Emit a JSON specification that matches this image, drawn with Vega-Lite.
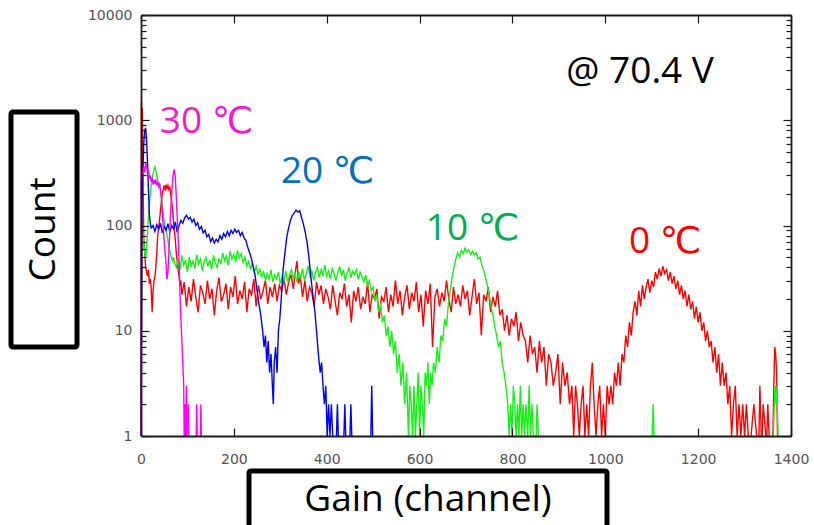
{
"$schema": "https://vega.github.io/schema/vega-lite/v6.json",
"padding": {"left": 8, "top": 8, "right": 5, "bottom": 0},
"config": {"view": {"stroke": null}, "concat": {"spacing": 0}},
"datasets": {
"red": [{"c":0,"n":1},{"c":1,"n":1500},{"c":2,"n":700},{"c":3,"n":1300},{"c":4,"n":350},{"c":5,"n":160},{"c":6,"n":75},{"c":8,"n":55},{"c":10,"n":40},{"c":12,"n":36},{"c":14,"n":33},{"c":16,"n":38},{"c":18,"n":28},{"c":20,"n":31},{"c":22,"n":25},{"c":24,"n":15},{"c":26,"n":24},{"c":28,"n":30},{"c":30,"n":33},{"c":32,"n":40},{"c":34,"n":55},{"c":36,"n":80},{"c":38,"n":95},{"c":40,"n":115},{"c":42,"n":140},{"c":44,"n":170},{"c":46,"n":200},{"c":48,"n":220},{"c":50,"n":240},{"c":52,"n":215},{"c":54,"n":245},{"c":56,"n":225},{"c":58,"n":240},{"c":60,"n":220},{"c":62,"n":230},{"c":64,"n":200},{"c":66,"n":170},{"c":68,"n":140},{"c":70,"n":110},{"c":72,"n":90},{"c":74,"n":72},{"c":76,"n":55},{"c":78,"n":45},{"c":80,"n":38},{"c":82,"n":33},{"c":84,"n":27},{"c":86,"n":30},
{"c":88,"n":22},{"c":93,"n":29},{"c":98,"n":17},{"c":103,"n":26},{"c":108,"n":19},{"c":113,"n":31},{"c":118,"n":21},{"c":123,"n":15},{"c":128,"n":27},{"c":133,"n":23},{"c":138,"n":18},{"c":143,"n":30},{"c":148,"n":20},{"c":153,"n":25},{"c":158,"n":14},{"c":163,"n":24},{"c":168,"n":32},{"c":173,"n":19},{"c":178,"n":22},{"c":183,"n":28},{"c":188,"n":16},{"c":193,"n":26},{"c":198,"n":21},{"c":203,"n":33},{"c":208,"n":18},{"c":213,"n":24},{"c":218,"n":20},{"c":223,"n":29},{"c":228,"n":15},{"c":233,"n":25},{"c":238,"n":22},{"c":243,"n":31},{"c":248,"n":17},{"c":253,"n":27},{"c":258,"n":20},{"c":263,"n":24},{"c":268,"n":30},{"c":273,"n":18},{"c":278,"n":26},{"c":283,"n":21},{"c":288,"n":28},{"c":293,"n":19},{"c":298,"n":27},
{"c":303,"n":24},{"c":308,"n":31},{"c":313,"n":22},{"c":318,"n":29},{"c":323,"n":34},{"c":328,"n":25},{"c":333,"n":38},{"c":336,"n":46},{"c":339,"n":28},{"c":343,"n":33},
{"c":348,"n":21},{"c":353,"n":30},{"c":358,"n":19},{"c":363,"n":26},{"c":368,"n":23},{"c":373,"n":17},{"c":378,"n":29},{"c":383,"n":22},{"c":388,"n":27},{"c":393,"n":18},{"c":398,"n":25},
{"c":403,"n":21},{"c":408,"n":16},{"c":413,"n":27},{"c":418,"n":19},{"c":423,"n":14},{"c":428,"n":23},{"c":433,"n":20},{"c":438,"n":28},{"c":443,"n":17},{"c":448,"n":22},{"c":453,"n":12},{"c":458,"n":24},{"c":463,"n":19},{"c":468,"n":26},{"c":473,"n":16},{"c":478,"n":21},{"c":483,"n":18},{"c":488,"n":29},{"c":493,"n":15},{"c":498,"n":22},{"c":503,"n":20},{"c":508,"n":25},{"c":513,"n":13},{"c":518,"n":21},
{"c":523,"n":19},{"c":528,"n":26},{"c":533,"n":15},{"c":538,"n":22},{"c":543,"n":17},{"c":548,"n":30},{"c":553,"n":18},{"c":558,"n":24},{"c":563,"n":14},{"c":568,"n":21},{"c":573,"n":27},{"c":578,"n":16},{"c":583,"n":23},{"c":588,"n":19},{"c":593,"n":29},{"c":598,"n":15},{"c":603,"n":22},{"c":608,"n":11},{"c":613,"n":24},{"c":618,"n":18},{"c":623,"n":28},{"c":628,"n":7},{"c":633,"n":21},{"c":638,"n":25},{"c":643,"n":17},{"c":648,"n":23},{"c":653,"n":19},{"c":658,"n":30},{"c":663,"n":20},{"c":668,"n":15},{"c":673,"n":26},{"c":678,"n":18},{"c":683,"n":22},{"c":688,"n":17},{"c":693,"n":27},{"c":698,"n":20},{"c":703,"n":24},{"c":708,"n":14},{"c":713,"n":21},{"c":718,"n":31},{"c":723,"n":18},{"c":728,"n":23},{"c":733,"n":9},{"c":738,"n":22},
{"c":743,"n":19},{"c":748,"n":26},{"c":753,"n":15},{"c":758,"n":21},{"c":763,"n":17},{"c":768,"n":24},{"c":773,"n":14},
{"c":778,"n":16},{"c":783,"n":10},{"c":788,"n":14},{"c":793,"n":9},{"c":798,"n":13},{"c":803,"n":11},{"c":808,"n":15},{"c":813,"n":8},{"c":818,"n":12},{"c":823,"n":9},
{"c":828,"n":8},{"c":833,"n":5},{"c":838,"n":9},{"c":843,"n":6},{"c":848,"n":7},{"c":853,"n":4},{"c":858,"n":8},{"c":863,"n":5},{"c":868,"n":7},{"c":873,"n":3},{"c":878,"n":6},
{"c":883,"n":5},{"c":888,"n":3},{"c":893,"n":4},{"c":898,"n":6},{"c":903,"n":2},{"c":908,"n":5},{"c":913,"n":3},{"c":918,"n":4},{"c":923,"n":2},{"c":928,"n":3},
{"c":932,"n":1},{"c":936,"n":3},{"c":940,"n":2},{"c":944,"n":1},{"c":948,"n":2},{"c":952,"n":3},{"c":956,"n":1},{"c":960,"n":2},{"c":964,"n":1},{"c":968,"n":3},{"c":972,"n":5},{"c":976,"n":2},{"c":980,"n":1},{"c":984,"n":2},{"c":988,"n":3},{"c":992,"n":1},{"c":996,"n":2},{"c":1000,"n":1},{"c":1004,"n":3},{"c":1008,"n":2},
{"c":1012,"n":3},{"c":1016,"n":2},{"c":1020,"n":4},{"c":1024,"n":3},{"c":1028,"n":5},{"c":1032,"n":3},
{"c":1036,"n":6},{"c":1040,"n":5},{"c":1044,"n":9},{"c":1048,"n":7},{"c":1052,"n":12},{"c":1056,"n":9},
{"c":1060,"n":15},{"c":1064,"n":19},{"c":1068,"n":14},{"c":1072,"n":24},{"c":1076,"n":17},{"c":1080,"n":27},{"c":1084,"n":20},{"c":1088,"n":26},{"c":1092,"n":31},{"c":1096,"n":23},
{"c":1100,"n":30},{"c":1104,"n":26},{"c":1108,"n":36},{"c":1112,"n":31},{"c":1116,"n":39},{"c":1120,"n":33},{"c":1124,"n":41},{"c":1128,"n":35},{"c":1132,"n":38},{"c":1136,"n":30},{"c":1140,"n":36},{"c":1144,"n":28},{"c":1148,"n":33},
{"c":1152,"n":25},{"c":1156,"n":30},{"c":1160,"n":22},{"c":1164,"n":27},{"c":1168,"n":20},{"c":1172,"n":24},{"c":1176,"n":17},{"c":1180,"n":22},{"c":1184,"n":16},{"c":1188,"n":19},{"c":1192,"n":13},{"c":1196,"n":17},
{"c":1200,"n":12},{"c":1204,"n":15},{"c":1208,"n":10},{"c":1212,"n":12},{"c":1216,"n":8},{"c":1220,"n":10},{"c":1224,"n":7},
{"c":1228,"n":8},{"c":1232,"n":5},{"c":1236,"n":7},{"c":1240,"n":4},{"c":1244,"n":6},{"c":1248,"n":3},{"c":1252,"n":5},{"c":1256,"n":3},{"c":1260,"n":4},{"c":1264,"n":2},{"c":1268,"n":3},
{"c":1272,"n":1},{"c":1276,"n":2},{"c":1280,"n":3},{"c":1284,"n":1},{"c":1288,"n":2},{"c":1292,"n":1},{"c":1296,"n":2},{"c":1300,"n":1},{"c":1304,"n":2},{"c":1308,"n":1},
{"c":1314,"n":1,"g":"b"},{"c":1320,"n":2,"g":"b"},{"c":1326,"n":1,"g":"b"},{"c":1331,"n":1,"g":"c"},{"c":1333,"n":3,"g":"c"},{"c":1336,"n":1,"g":"c"},{"c":1338,"n":1,"g":"d"},{"c":1340,"n":2,"g":"d"},{"c":1346,"n":1,"g":"d"},{"c":1348,"n":1,"g":"e"},{"c":1350,"n":2,"g":"e"},{"c":1353,"n":1,"g":"e"},{"c":1361,"n":1,"g":"f"},{"c":1363,"n":3,"g":"f"},{"c":1365,"n":7,"g":"f"},{"c":1367,"n":6,"g":"f"},{"c":1369,"n":4,"g":"f"},{"c":1371,"n":1,"g":"f"}],
"green": [{"c":0,"n":1},{"c":2,"n":120},{"c":4,"n":85},{"c":6,"n":70},{"c":8,"n":55},{"c":10,"n":48},{"c":12,"n":60},{"c":14,"n":85},{"c":16,"n":120},{"c":18,"n":160},{"c":20,"n":200},{"c":22,"n":240},{"c":24,"n":280},{"c":26,"n":310},{"c":28,"n":340},{"c":30,"n":360},{"c":32,"n":330},{"c":34,"n":300},{"c":36,"n":270},{"c":38,"n":240},{"c":40,"n":250},{"c":42,"n":220},{"c":44,"n":190},{"c":46,"n":150},{"c":48,"n":125},{"c":50,"n":110},{"c":52,"n":95},{"c":54,"n":90},{"c":56,"n":80},{"c":58,"n":72},{"c":60,"n":62},{"c":62,"n":58},{"c":64,"n":52},{"c":66,"n":49},{"c":68,"n":46},{"c":70,"n":50},{"c":73,"n":43},
{"c":76,"n":40},{"c":80,"n":48},{"c":84,"n":38},{"c":88,"n":52},{"c":92,"n":42},{"c":96,"n":47},{"c":100,"n":36},{"c":104,"n":50},{"c":108,"n":41},{"c":112,"n":46},{"c":116,"n":39},{"c":120,"n":53},{"c":124,"n":43},{"c":128,"n":48},{"c":132,"n":37},{"c":136,"n":45},{"c":140,"n":50},{"c":144,"n":41},{"c":148,"n":47},{"c":152,"n":38},{"c":156,"n":52},{"c":160,"n":44},{"c":164,"n":40},{"c":168,"n":49},{"c":172,"n":43},{"c":176,"n":55},{"c":180,"n":46},{"c":184,"n":51},{"c":188,"n":42},{"c":192,"n":57},{"c":196,"n":48},{"c":200,"n":53},{"c":204,"n":45},{"c":208,"n":58},{"c":212,"n":49},{"c":216,"n":54},{"c":220,"n":44},{"c":224,"n":50},{"c":228,"n":41},{"c":232,"n":46},
{"c":236,"n":38},{"c":240,"n":44},{"c":244,"n":36},{"c":248,"n":41},{"c":252,"n":34},{"c":256,"n":39},{"c":260,"n":32},{"c":264,"n":37},{"c":268,"n":30},{"c":272,"n":35},{"c":276,"n":31},{"c":280,"n":38},{"c":284,"n":29},{"c":288,"n":34},{"c":292,"n":31},{"c":296,"n":36},{"c":300,"n":28},{"c":304,"n":33},{"c":308,"n":30},{"c":312,"n":37},{"c":316,"n":29},{"c":320,"n":34},{"c":324,"n":38},{"c":328,"n":31},{"c":332,"n":35},{"c":336,"n":29},{"c":340,"n":36},{"c":344,"n":32},{"c":348,"n":39},{"c":352,"n":30},{"c":356,"n":35},{"c":360,"n":41},{"c":364,"n":33},{"c":368,"n":37},{"c":372,"n":30},{"c":376,"n":36},{"c":380,"n":40},{"c":384,"n":32},{"c":388,"n":38},{"c":392,"n":34},{"c":396,"n":42},{"c":400,"n":33},{"c":404,"n":37},{"c":408,"n":31},{"c":412,"n":39},{"c":416,"n":35},{"c":420,"n":30},{"c":424,"n":36},{"c":428,"n":41},{"c":432,"n":33},{"c":436,"n":38},{"c":440,"n":30},{"c":444,"n":35},{"c":448,"n":40},{"c":452,"n":32},{"c":456,"n":37},{"c":460,"n":34},{"c":464,"n":38},{"c":468,"n":31},{"c":472,"n":36},{"c":476,"n":33},{"c":480,"n":29},{"c":484,"n":34},{"c":488,"n":27},{"c":492,"n":30},{"c":496,"n":24},{"c":500,"n":26},{"c":504,"n":19},{"c":508,"n":22},{"c":512,"n":15},{"c":516,"n":18},{"c":520,"n":12},{"c":524,"n":14},{"c":528,"n":9},{"c":532,"n":11},{"c":536,"n":7},{"c":540,"n":10},{"c":544,"n":6},{"c":548,"n":8},{"c":552,"n":4},{"c":556,"n":6},{"c":560,"n":3},{"c":564,"n":5},{"c":568,"n":2},{"c":572,"n":4},{"c":576,"n":1},{"c":579,"n":3},{"c":582,"n":2},{"c":585,"n":1},{"c":588,"n":3},{"c":591,"n":1},{"c":594,"n":2},{"c":597,"n":4},{"c":600,"n":1},{"c":603,"n":3},{"c":606,"n":2},{"c":609,"n":1},{"c":612,"n":4},{"c":615,"n":3},{"c":618,"n":5},{"c":621,"n":2},{"c":624,"n":4},{"c":627,"n":3},{"c":630,"n":5},{"c":634,"n":4},{"c":638,"n":7},{"c":642,"n":5},{"c":646,"n":9},{"c":650,"n":8},{"c":654,"n":13},{"c":658,"n":11},{"c":662,"n":18},{"c":666,"n":24},{"c":670,"n":32},{"c":674,"n":40},{"c":678,"n":48},{"c":682,"n":55},{"c":686,"n":50},{"c":690,"n":58},{"c":694,"n":54},{"c":698,"n":61},{"c":702,"n":56},{"c":706,"n":59},{"c":710,"n":53},{"c":714,"n":57},{"c":718,"n":52},{"c":722,"n":55},{"c":726,"n":48},{"c":730,"n":50},{"c":734,"n":42},{"c":738,"n":38},{"c":742,"n":32},{"c":746,"n":27},{"c":750,"n":22},{"c":754,"n":17},{"c":758,"n":14},{"c":762,"n":11},{"c":766,"n":9},{"c":770,"n":7},{"c":774,"n":8},{"c":778,"n":5},{"c":782,"n":4},{"c":786,"n":3},{"c":790,"n":2},{"c":793,"n":1},{"c":796,"n":2},{"c":799,"n":1},{"c":802,"n":3},{"c":805,"n":2},{"c":808,"n":1},{"c":811,"n":2},{"c":814,"n":1},{"c":817,"n":3},{"c":820,"n":1},{"c":823,"n":2},{"c":826,"n":1},{"c":829,"n":2},{"c":833,"n":1},{"c":836,"n":3},{"c":839,"n":1},{"c":842,"n":2},{"c":845,"n":1},{"c":851,"n":1,"g":"b"},{"c":853,"n":2,"g":"b"},{"c":856,"n":1,"g":"b"},{"c":1101,"n":1,"g":"c"},{"c":1103,"n":2,"g":"c"},{"c":1105,"n":1,"g":"c"},{"c":1362,"n":1,"g":"d"},{"c":1364,"n":2,"g":"d"},{"c":1366,"n":3,"g":"d"},{"c":1368,"n":2,"g":"d"},{"c":1370,"n":3,"g":"d"},{"c":1372,"n":1,"g":"d"}],
"blue": [{"c":0,"n":1},{"c":2,"n":150},{"c":4,"n":320},{"c":6,"n":600},{"c":8,"n":800},{"c":10,"n":850},{"c":12,"n":650},{"c":14,"n":400},{"c":16,"n":220},{"c":18,"n":130},{"c":20,"n":105},{"c":22,"n":95},{"c":26,"n":100},{"c":30,"n":88},{"c":34,"n":102},{"c":38,"n":92},{"c":42,"n":105},{"c":46,"n":85},{"c":50,"n":98},{"c":54,"n":90},{"c":58,"n":104},{"c":62,"n":87},{"c":66,"n":100},{"c":70,"n":93},{"c":74,"n":108},{"c":78,"n":86},{"c":82,"n":100},{"c":86,"n":112},{"c":90,"n":105},{"c":94,"n":118},{"c":98,"n":125},{"c":102,"n":115},{"c":106,"n":120},{"c":110,"n":108},{"c":114,"n":115},{"c":118,"n":100},{"c":122,"n":106},{"c":126,"n":92},{"c":130,"n":98},{"c":134,"n":85},{"c":138,"n":90},{"c":142,"n":78},{"c":146,"n":82},{"c":150,"n":70},{"c":154,"n":76},{"c":158,"n":68},{"c":162,"n":74},{"c":166,"n":70},{"c":170,"n":80},{"c":174,"n":74},{"c":178,"n":84},{"c":182,"n":78},{"c":186,"n":88},{"c":190,"n":80},{"c":194,"n":90},{"c":198,"n":84},{"c":202,"n":92},{"c":206,"n":86},{"c":210,"n":90},{"c":214,"n":80},{"c":218,"n":86},{"c":222,"n":76},{"c":226,"n":72},{"c":230,"n":62},{"c":234,"n":55},{"c":238,"n":48},{"c":242,"n":40},{"c":246,"n":33},{"c":250,"n":24},{"c":254,"n":18},{"c":258,"n":14},{"c":262,"n":10},{"c":265,"n":7},{"c":268,"n":9},{"c":271,"n":5},{"c":274,"n":8},{"c":277,"n":4},{"c":280,"n":6},{"c":283,"n":3},{"c":285,"n":2},{"c":287,"n":5},{"c":290,"n":7},{"c":293,"n":4},{"c":296,"n":10},{"c":299,"n":13},{"c":302,"n":20},{"c":306,"n":38},{"c":310,"n":55},{"c":314,"n":78},{"c":318,"n":95},{"c":322,"n":112},{"c":326,"n":125},{"c":330,"n":132},{"c":334,"n":140},{"c":338,"n":134},{"c":342,"n":138},{"c":346,"n":118},{"c":350,"n":102},{"c":354,"n":85},{"c":358,"n":68},{"c":362,"n":48},{"c":366,"n":32},{"c":370,"n":22},{"c":374,"n":16},{"c":378,"n":10},{"c":382,"n":6},{"c":386,"n":4},{"c":389,"n":5},{"c":392,"n":3},{"c":395,"n":2},{"c":398,"n":3},{"c":401,"n":1},{"c":404,"n":2},{"c":407,"n":1},{"c":410,"n":2},{"c":413,"n":1},{"c":421,"n":1,"g":"b"},{"c":423,"n":2,"g":"b"},{"c":425,"n":1,"g":"b"},{"c":437,"n":1,"g":"c"},{"c":439,"n":2,"g":"c"},{"c":441,"n":1,"g":"c"},{"c":450,"n":1,"g":"d"},{"c":452,"n":2,"g":"d"},{"c":454,"n":1,"g":"d"},{"c":495,"n":1,"g":"e"},{"c":497,"n":3,"g":"e"},{"c":499,"n":1,"g":"e"}],
"magenta": [{"c":0,"n":1},{"c":1,"n":260},{"c":2,"n":330},{"c":4,"n":290},{"c":6,"n":360},{"c":8,"n":320},{"c":10,"n":400},{"c":12,"n":370},{"c":14,"n":310},{"c":16,"n":340},{"c":18,"n":280},{"c":20,"n":300},{"c":22,"n":260},{"c":24,"n":285},{"c":26,"n":245},{"c":28,"n":270},{"c":30,"n":250},{"c":32,"n":275},{"c":34,"n":240},{"c":36,"n":260},{"c":38,"n":235},{"c":40,"n":250},{"c":42,"n":215},{"c":44,"n":180},{"c":46,"n":130},{"c":48,"n":95},{"c":50,"n":70},{"c":52,"n":55},{"c":54,"n":42},{"c":56,"n":31},{"c":58,"n":36},{"c":60,"n":55},{"c":62,"n":90},{"c":64,"n":140},{"c":66,"n":200},{"c":68,"n":260},{"c":70,"n":320},{"c":72,"n":340},{"c":74,"n":280},{"c":76,"n":190},{"c":78,"n":120},{"c":80,"n":80},{"c":82,"n":45},{"c":84,"n":22},{"c":86,"n":13},{"c":88,"n":8},{"c":90,"n":5},{"c":92,"n":3},{"c":93,"n":1},{"c":95,"n":2},{"c":96,"n":1},{"c":98,"n":3},{"c":99,"n":1},{"c":102,"n":2},{"c":103,"n":1},{"c":119,"n":1,"g":"b"},{"c":120,"n":2,"g":"b"},{"c":121,"n":1,"g":"b"},{"c":128,"n":1,"g":"c"},{"c":129,"n":2,"g":"c"},{"c":130,"n":1,"g":"c"}],
"notes": [{"t":"30 ℃","c":141,"n":761},{"t":"20 ℃","c":402,"n":251},{"t":"10 ℃","c":714,"n":73},{"t":"0 ℃","c":1129,"n":54.5},{"t":"@ 70.4 V","c":1075,"n":2270}]
},
"spacing": 2,
"vconcat": [
 {"hconcat": [
   {"vconcat": [
     {"width": 65, "height": 94, "data": {"values": [{}]}, "mark": {"type": "text", "text": ""}, "encoding": {}},
     {"width": 66, "height": 235, "view": {"stroke": "black", "strokeWidth": 5, "cornerRadius": 2}, "data": {"values": [{}]},
      "mark": {"type": "text", "text": "Count", "angle": 270, "font": "Open Sans", "fontSize": 37, "color": "black", "align": "center", "baseline": "middle"}, "encoding": {}}
   ]},
   {"width": 650, "height": 421,
    "resolve": {"axis": {"x": "independent", "y": "independent"}},
    "layer": [
     {"data": {"name": "red"}, "mark": {"type": "line", "color": "#FF0000", "strokeWidth": 1.4, "interpolate": "linear"},
      "encoding": {
       "x": {"field": "c", "type": "quantitative", "scale": {"domain": [0, 1400], "nice": false, "zero": false},
             "axis": {"orient": "bottom", "values": [0,200,400,600,800,1000,1200,1400], "format": "d", "title": null, "grid": false, "tickSize": -8, "labelPadding": 24, "labelFlush": false, "labelOverlap": false, "labelFont": "DejaVu Sans", "labelFontSize": 14, "labelColor": "#555555", "domainColor": "#1a1a1a", "domainWidth": 1.8, "tickColor": "#1a1a1a", "tickWidth": 1.2, "zindex": 1}},
       "y": {"field": "n", "type": "quantitative", "scale": {"type": "log", "domain": [1, 10000], "nice": false},
             "axis": {"orient": "left", "values": [1,2,3,4,5,6,7,8,9,10,20,30,40,50,60,70,80,90,100,200,300,400,500,600,700,800,900,1000,2000,3000,4000,5000,6000,7000,8000,9000,10000],
                      "labelExpr": "indexof([1,10,100,1000,10000], datum.value) >= 0 ? format(datum.value, 'd') : ''",
                      "title": null, "grid": false,
                      "tickSize": {"condition": {"test": "indexof([1,10,100,1000,10000], datum.value) >= 0", "value": -8}, "value": -5},
                      "labelPadding": 17, "labelFlush": false, "labelOverlap": false, "labelFont": "DejaVu Sans", "labelFontSize": 14, "labelColor": "#555555", "domainColor": "#1a1a1a", "domainWidth": 1.8, "tickColor": "#1a1a1a", "tickWidth": 1.2, "zindex": 1}},
       "detail": {"field": "g", "type": "nominal"}
      }},
     {"data": {"name": "green"}, "mark": {"type": "line", "color": "#18F018", "strokeWidth": 1.4},
      "encoding": {
       "x": {"field": "c", "type": "quantitative", "scale": {"domain": [0, 1400], "nice": false, "zero": false}, "axis": null},
       "y": {"field": "n", "type": "quantitative", "scale": {"type": "log", "domain": [1, 10000], "nice": false}, "axis": null},
       "detail": {"field": "g", "type": "nominal"}
      }},
     {"data": {"name": "blue"}, "mark": {"type": "line", "color": "#0000FF", "strokeWidth": 1.4},
      "encoding": {
       "x": {"field": "c", "type": "quantitative", "scale": {"domain": [0, 1400], "nice": false, "zero": false}, "axis": null},
       "y": {"field": "n", "type": "quantitative", "scale": {"type": "log", "domain": [1, 10000], "nice": false}, "axis": null},
       "detail": {"field": "g", "type": "nominal"}
      }},
     {"data": {"name": "magenta"}, "mark": {"type": "line", "color": "#FF00FF", "strokeWidth": 1.4},
      "encoding": {
       "x": {"field": "c", "type": "quantitative", "scale": {"domain": [0, 1400], "nice": false, "zero": false},
             "axis": {"orient": "top", "values": [0,200,400,600,800,1000,1200,1400], "labels": false, "title": null, "grid": false, "tickSize": -8, "domainColor": "#1a1a1a", "domainWidth": 1.8, "tickColor": "#1a1a1a", "tickWidth": 1.2, "zindex": 1}},
       "y": {"field": "n", "type": "quantitative", "scale": {"type": "log", "domain": [1, 10000], "nice": false},
             "axis": {"orient": "right", "values": [1,2,3,4,5,6,7,8,9,10,20,30,40,50,60,70,80,90,100,200,300,400,500,600,700,800,900,1000,2000,3000,4000,5000,6000,7000,8000,9000,10000],
                      "labels": false, "title": null, "grid": false,
                      "tickSize": {"condition": {"test": "indexof([1,10,100,1000,10000], datum.value) >= 0", "value": -8}, "value": -5},
                      "domainColor": "#1a1a1a", "domainWidth": 1.8, "tickColor": "#1a1a1a", "tickWidth": 1.2, "zindex": 1}},
       "detail": {"field": "g", "type": "nominal"}
      }},
     {"data": {"name": "notes"}, "mark": {"type": "text", "font": "Open Sans, DejaVu Sans", "fontSize": 37, "align": "center", "baseline": "alphabetic"},
      "encoding": {
       "x": {"field": "c", "type": "quantitative", "scale": {"domain": [0, 1400], "nice": false, "zero": false}, "axis": null},
       "y": {"field": "n", "type": "quantitative", "scale": {"type": "log", "domain": [1, 10000], "nice": false}, "axis": null},
       "text": {"field": "t"},
       "color": {"field": "t", "type": "nominal", "legend": null,
                 "scale": {"domain": ["30 ℃", "20 ℃", "10 ℃", "0 ℃", "@ 70.4 V"], "range": ["#F01EC8", "#0070C0", "#00B050", "#FF0000", "#000000"]}}
      }}
    ]}
 ], "spacing": 7},
 {"hconcat": [
   {"width": 235, "height": 57, "data": {"values": [{}]}, "mark": {"type": "text", "text": ""}, "encoding": {}},
   {"width": 358, "height": 57, "view": {"stroke": "black", "strokeWidth": 5, "cornerRadius": 2}, "data": {"values": [{}]},
    "mark": {"type": "text", "text": "Gain (channel)", "font": "Open Sans", "fontSize": 37, "color": "black", "align": "center", "baseline": "middle"}, "encoding": {}}
 ]}
]
}
